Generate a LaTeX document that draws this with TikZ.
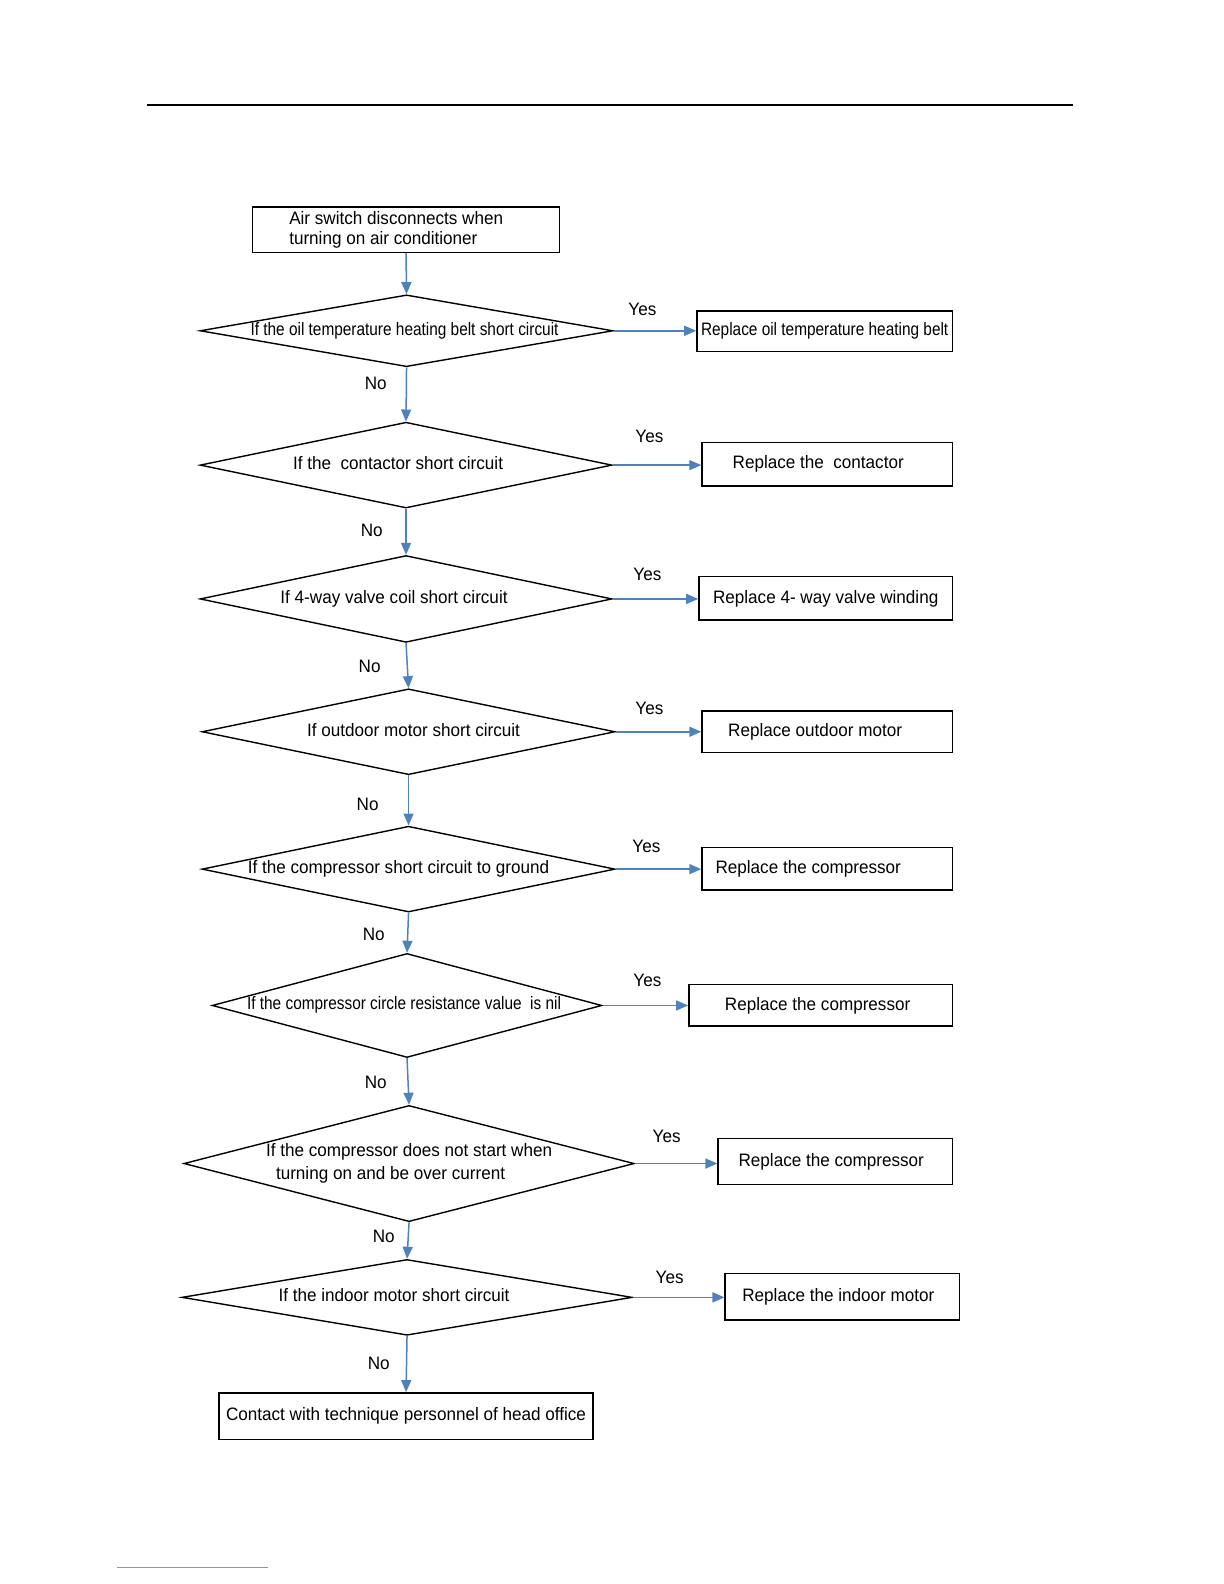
\documentclass[tikz,border=0pt]{standalone}
\usepackage{fontspec}
\usepackage{graphicx}
\setmainfont{Liberation Sans}[FakeStretch=0.95]
\usetikzlibrary{shapes.geometric,arrows.meta}
\definecolor{arrowblue}{RGB}{79,129,189}
\definecolor{footblue}{RGB}{120,150,220}
\newcommand{\fs}{\fontsize{9pt}{9.6pt}\selectfont}
\newcommand{\cond}[1]{\scalebox{0.9}[1]{#1}}
\newcommand{\padr}[1]{\hspace*{#1}}
\tikzset{
  box/.style={draw=black, line width=0.7pt, inner sep=0pt, font=\fs},
  dia/.style={diamond, draw=black, line width=0.7pt, inner sep=0pt, font=\fs, text height=6pt, text depth=1.5pt},
  arr/.style={draw=arrowblue, line width=0.75pt, -{Triangle[length=6pt,width=5pt]}},
  lbl/.style={font=\fs, inner sep=0pt}
}
\begin{document}
\begin{tikzpicture}[x=0.505pt,y=-0.505pt]
\useasboundingbox (0pt,0pt) rectangle (612pt,-792pt);
% header rule and footnote line
\draw[line width=1pt] (146,104) -- (1062,104);
\draw[footblue, line width=0.5pt] (116,1552) -- (265,1552);

% start
\node[draw=black, line width=0.7pt, minimum width=153.5pt, minimum height=22.7pt, inner sep=0pt] (start) at (402,227.5) {};
\node[font=\fs, align=left, inner sep=0pt, anchor=west] (starttext) at (286,227.5) {Air switch disconnects when\\turning on air conditioner};

% decisions
\node[dia, minimum width=206.5pt, minimum height=35.9pt, aspect=5.76] (d1) at (402.5,327.5) {\cond{If the oil temperature heating belt short circuit}\padr{2pt}};
\node[dia, minimum width=206pt, minimum height=42.9pt, aspect=4.8] (d2) at (402,460.5) {If the\ \ contactor short circuit\padr{8pt}};
\node[dia, minimum width=206pt, minimum height=43.4pt, aspect=4.74] (d3) at (402,593) {If 4-way valve coil short circuit\padr{12pt}};
\node[dia, minimum width=206.5pt, minimum height=42.9pt, aspect=4.81] (d4) at (404.5,724.5) {\padr{5pt}If outdoor motor short circuit};
\node[dia, minimum width=206.5pt, minimum height=42.9pt, aspect=4.81] (d5) at (404.5,860.5) {If the compressor short circuit to ground\padr{10pt}};
\node[dia, minimum width=194.9pt, minimum height=52pt, aspect=3.75] (d6) at (403,995.5) {\cond{If the compressor circle resistance value\ \ is nil}\padr{3pt}};
\node[diamond, draw=black, line width=0.7pt, inner sep=0pt, font=\fontsize{9pt}{11.6pt}\selectfont, align=left, minimum width=225.2pt, minimum height=58.1pt, aspect=3.88] (d7) at (405,1152) {If the compressor does not start when\\\hspace*{5pt}turning on and be over current};
\node[dia, minimum width=225.2pt, minimum height=37.9pt, aspect=5.95] (d8) at (403,1284.5) {If the indoor motor short circuit\padr{13pt}};

% actions
\node[box, minimum width=127.8pt, minimum height=20.2pt] (b1) at (816.5,328) {\cond{Replace oil temperature heating belt}};
\node[box, minimum width=125.2pt, minimum height=21.7pt] (b2) at (819,459.5) {Replace the\ \ contactor\padr{9pt}};
\node[box, minimum width=126.8pt, minimum height=21.7pt] (b3) at (817.5,592.5) {Replace 4- way valve winding};
\node[box, minimum width=125.2pt, minimum height=20.7pt] (b4) at (819,724.5) {Replace outdoor motor\padr{12pt}};
\node[box, minimum width=125.2pt, minimum height=21.2pt] (b5) at (819,860) {Replace the compressor\padr{19pt}};
\node[box, minimum width=131.8pt, minimum height=20.7pt] (b6) at (812.5,995.5) {Replace the compressor\padr{3pt}};
\node[box, minimum width=117.2pt, minimum height=23.2pt] (b7) at (827,1150) {Replace the compressor\padr{4pt}};
\node[box, minimum width=117.2pt, minimum height=23.2pt] (b8) at (834,1284) {Replace the indoor motor\padr{4pt}};
\node[box, minimum width=186.9pt, minimum height=23.2pt] (end) at (402,1402) {Contact with technique personnel of head office};

% labels
\node[lbl] (y1) at (636,306) {Yes};
\node[lbl] (y2) at (643,432) {Yes};
\node[lbl] (y3) at (641,569) {Yes};
\node[lbl] (y4) at (643,701) {Yes};
\node[lbl] (y5) at (640,838) {Yes};
\node[lbl] (y6) at (641,971) {Yes};
\node[lbl] (y7) at (660,1125) {Yes};
\node[lbl] (y8) at (663,1265) {Yes};
\node[lbl] (n1) at (372,380) {No};
\node[lbl] (n2) at (368,525) {No};
\node[lbl] (n3) at (366,660) {No};
\node[lbl] (n4) at (364,796) {No};
\node[lbl] (n5) at (370,925) {No};
\node[lbl] (n6) at (372,1072) {No};
\node[lbl] (n7) at (380,1224) {No};
\node[lbl] (n8) at (375,1350) {No};

% connectors
\draw[arr] (start.south) -- (d1.north);
\draw[arr] (d1.south) -- (d2.north);
\draw[arr] (d2.south) -- (d3.north);
\draw[arr] (d3.south) -- (d4.north);
\draw[arr] (d4.south) -- (d5.north);
\draw[arr] (d5.south) -- (d6.north);
\draw[arr] (d6.south) -- (d7.north);
\draw[arr] (d7.south) -- (d8.north);
\draw[arr] (d8.south) -- (end.north);
\draw[arr] (d1.east) -- (d1.east -| b1.west);
\draw[arr] (d2.east) -- (d2.east -| b2.west);
\draw[arr] (d3.east) -- (d3.east -| b3.west);
\draw[arr] (d4.east) -- (d4.east -| b4.west);
\draw[arr] (d5.east) -- (d5.east -| b5.west);
\draw[arr] (d6.east) -- (d6.east -| b6.west);
\draw[arr] (d7.east) -- (d7.east -| b7.west);
\draw[arr] (d8.east) -- (d8.east -| b8.west);
\end{tikzpicture}
\end{document}
